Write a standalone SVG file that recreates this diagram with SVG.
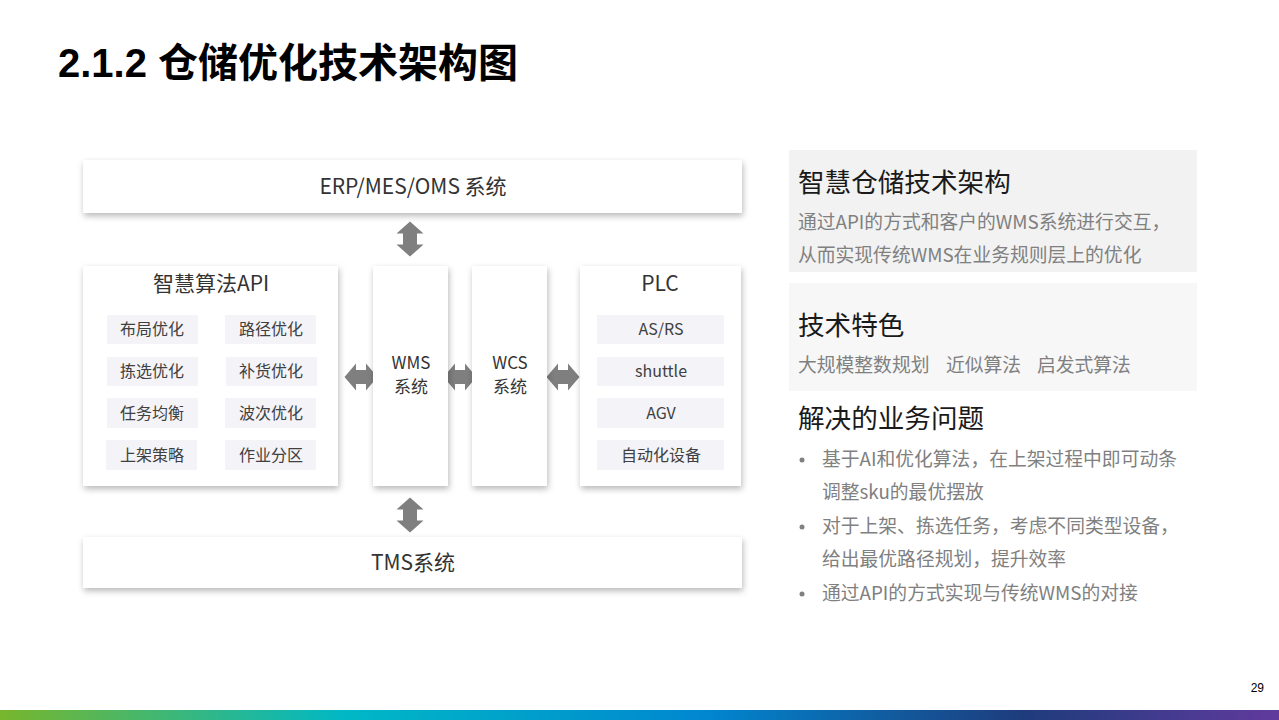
<svg xmlns="http://www.w3.org/2000/svg" width="1279" height="720" viewBox="0 0 1279 720">
<defs>
<filter id="sh" x="-10%" y="-20%" width="120%" height="150%">
<feDropShadow dx="1" dy="3" stdDeviation="3" flood-color="#000" flood-opacity="0.28"/>
</filter>
<linearGradient id="bar" x1="0" y1="0" x2="1" y2="0">
<stop offset="0" stop-color="#78b62c"/>
<stop offset="0.27" stop-color="#00b8c6"/>
<stop offset="0.55" stop-color="#0087d0"/>
<stop offset="0.8" stop-color="#1e3c7c"/>
<stop offset="1" stop-color="#613a9e"/>
</linearGradient>
<path id="varrow" d="M0,-17.5 L13.5,-5.5 L7,-5.5 L7,5.5 L13.5,5.5 L0,17.5 L-13.5,5.5 L-7,5.5 L-7,-5.5 L-13.5,-5.5 Z"/>
<path id="harrow" d="M-16.5,0 L-5,-13.5 L-5,-7 L5,-7 L5,-13.5 L16.5,0 L5,13.5 L5,7 L-5,7 L-5,13.5 Z"/>
</defs>
<style>
text{font-family:"Microsoft YaHei","Noto Sans CJK SC","Noto Sans",sans-serif}
.box{fill:#fff;filter:url(#sh)}
.inner{fill:#f4f3f7}
.t20{font-size:21px;fill:#333}
.t18{font-size:17px;fill:#333}
.t16{font-size:16px;fill:#404040}
.arr{fill:#7f7f7f}
.h{font-size:26.6px;fill:#1a1a1a}
.b{font-size:18.8px;fill:#808080}
</style>
<rect width="1279" height="720" fill="#fff"/>
<text x="58" y="77" style="font-family:'Liberation Sans','Noto Sans CJK SC',sans-serif;font-weight:bold;font-size:40px;fill:#000">2.1.2 仓储优化技术架构图</text>

<g id="connectors">
<use href="#varrow" class="arr" x="410" y="239"/>
<use href="#varrow" class="arr" x="410" y="515"/>
<use href="#harrow" class="arr" x="361" y="377"/>
<use href="#harrow" class="arr" x="460" y="377"/>
<use href="#harrow" class="arr" x="563" y="377"/>
</g>

<g id="erp">
<rect class="box" x="83" y="160" width="659" height="53"/>
<text class="t20" x="413" y="194" text-anchor="middle">ERP/MES/OMS 系统</text>
</g>

<g id="api">
<rect class="box" x="83" y="266" width="255" height="220"/>
<text class="t20" x="211" y="291" text-anchor="middle">智慧算法API</text>
<rect class="inner" x="107" y="315" width="91" height="29"/>
<text class="t16" x="152" y="335" text-anchor="middle">布局优化</text>
<rect class="inner" x="225" y="315" width="91" height="29"/>
<text class="t16" x="271" y="335" text-anchor="middle">路径优化</text>
<rect class="inner" x="107" y="357" width="91" height="29"/>
<text class="t16" x="152" y="377" text-anchor="middle">拣选优化</text>
<rect class="inner" x="226" y="357" width="91" height="29"/>
<text class="t16" x="271" y="377" text-anchor="middle">补货优化</text>
<rect class="inner" x="107" y="398" width="91" height="30"/>
<text class="t16" x="152" y="419" text-anchor="middle">任务均衡</text>
<rect class="inner" x="225" y="398" width="91" height="30"/>
<text class="t16" x="271" y="419" text-anchor="middle">波次优化</text>
<rect class="inner" x="106" y="440" width="91" height="30"/>
<text class="t16" x="152" y="461" text-anchor="middle">上架策略</text>
<rect class="inner" x="225" y="440" width="91" height="30"/>
<text class="t16" x="271" y="461" text-anchor="middle">作业分区</text>
</g>

<g id="wms">
<rect class="box" x="373" y="266" width="75" height="220"/>
<text class="t18" x="411" y="369" text-anchor="middle">WMS</text>
<text class="t18" x="411" y="393" text-anchor="middle">系统</text>
</g>

<g id="wcs">
<rect class="box" x="472" y="266" width="75" height="220"/>
<text class="t18" x="510" y="369" text-anchor="middle">WCS</text>
<text class="t18" x="510" y="393" text-anchor="middle">系统</text>
</g>

<g id="plc">
<rect class="box" x="580" y="266" width="161" height="220"/>
<text class="t20" x="660" y="291" text-anchor="middle">PLC</text>
<rect class="inner" x="597" y="315" width="127" height="29"/>
<text class="t16" x="661" y="335" text-anchor="middle">AS/RS</text>
<rect class="inner" x="597" y="357" width="127" height="29"/>
<text class="t16" x="661" y="377" text-anchor="middle">shuttle</text>
<rect class="inner" x="597" y="398" width="127" height="30"/>
<text class="t16" x="661" y="419" text-anchor="middle">AGV</text>
<rect class="inner" x="597" y="440" width="127" height="30"/>
<text class="t16" x="661" y="461" text-anchor="middle">自动化设备</text>
</g>

<g id="tms">
<rect class="box" x="83" y="537" width="659" height="51"/>
<text class="t20" x="413" y="570" text-anchor="middle">TMS系统</text>
</g>

<g id="panel1">
<rect x="789" y="150" width="408" height="122" fill="#f2f2f2"/>
<text class="h" x="798" y="192">智慧仓储技术架构</text>
<text class="b" x="798" y="229">通过API的方式和客户的WMS系统进行交互，</text>
<text class="b" x="798" y="262">从而实现传统WMS在业务规则层上的优化</text>
</g>

<g id="panel2">
<rect x="789" y="283" width="408" height="108" fill="#f7f7f7"/>
<text class="h" x="798" y="335">技术特色</text>
<text class="b" y="372"><tspan x="798">大规模整数规划</tspan><tspan x="946">近似算法</tspan><tspan x="1037">启发式算法</tspan></text>
</g>

<g id="panel3">
<text class="h" x="798" y="428">解决的业务问题</text>
<circle cx="802" cy="460" r="2.5" fill="#808080"/>
<text class="b" x="822" y="466">基于AI和优化算法，在上架过程中即可动条</text>
<text class="b" x="822" y="499">调整sku的最优摆放</text>
<circle cx="802" cy="527" r="2.5" fill="#808080"/>
<text class="b" x="822" y="533">对于上架、拣选任务，考虑不同类型设备，</text>
<text class="b" x="822" y="566">给出最优路径规划，提升效率</text>
<circle cx="802" cy="594" r="2.5" fill="#808080"/>
<text class="b" x="822" y="600">通过API的方式实现与传统WMS的对接</text>
</g>

<text x="1264" y="692" text-anchor="end" style="font-family:'Liberation Sans Narrow','Liberation Sans',sans-serif;font-size:12px;fill:#000">29</text>
<rect x="0" y="710" width="1279" height="10" fill="url(#bar)"/>
</svg>
